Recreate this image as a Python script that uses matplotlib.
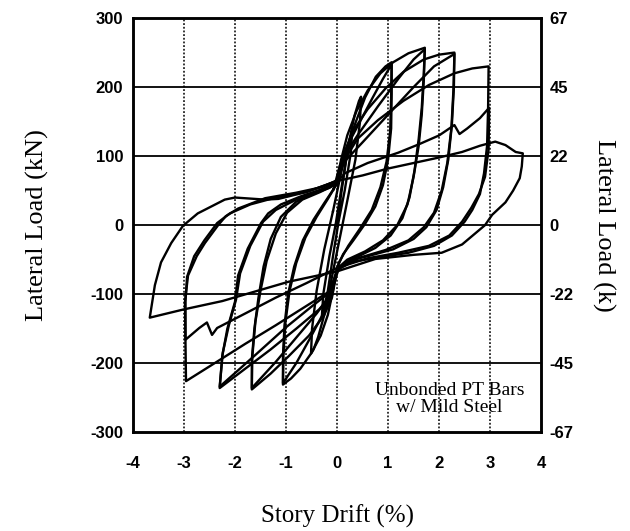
import matplotlib.pyplot as plt
import numpy as np

plt.rcParams['axes.unicode_minus'] = False

# tick values / labels
drift_ticks = [-4, -3, -2, -1, 0, 1, 2, 3, 4]
load_ticks = [-300, -200, -100, 0, 100, 200, 300]
kip_labels = ['-67', '-45', '-22', '0', '22', '45', '67']

# hysteresis cycles, (drift %, load kN)
cycle_e1 = [(0, 0), (0.08, 45), (0.18, 95), (0.3, 140), (0.27, 105), (0.15, 50), (0.03, 5),
            (-0.08, -45), (-0.18, -95), (-0.3, -135), (-0.27, -100), (-0.15, -45), (-0.03, 0)]
cycle_e2 = [(-0.03, 0), (0.1, 60), (0.22, 115), (0.34, 158), (0.43, 180), (0.47, 186), (0.45, 150),
            (0.36, 95), (0.2, 35), (0.05, -20), (-0.1, -75), (-0.25, -130), (-0.37, -162),
            (-0.46, -180), (-0.51, -186), (-0.49, -150), (-0.4, -95), (-0.25, -35), (-0.08, 20)]
cycle_1a = [(-0.08, 20), (0.02, 55), (0.12, 90), (0.25, 125), (0.37, 150), (0.55, 185), (0.76, 215),
            (0.95, 230), (1.07, 236), (1.07, 190), (1.06, 140), (1.0, 95), (0.9, 58), (0.75, 27),
            (0.55, 2), (0.32, -22), (0.12, -42), (0.0, -62), (-0.08, -95), (-0.18, -130),
            (-0.32, -160), (-0.5, -185), (-0.72, -208), (-0.9, -222), (-1.06, -231),
            (-1.06, -190), (-1.03, -145), (-0.96, -100), (-0.84, -60), (-0.67, -22),
            (-0.46, 8), (-0.25, 32), (-0.07, 52)]
cycle_1b = [(-0.07, 52), (0.05, 85), (0.2, 115), (0.45, 150), (0.7, 185), (0.9, 212), (1.07, 233),
            (1.06, 185), (1.04, 135), (0.97, 92), (0.85, 55), (0.68, 22), (0.45, -5), (0.22, -30),
            (0.03, -55), (-0.1, -100), (-0.25, -125), (-0.5, -160), (-0.8, -200), (-1.06, -229),
            (-1.05, -185), (-1.01, -140), (-0.93, -95), (-0.8, -55), (-0.62, -18), (-0.4, 12),
            (-0.18, 38), (-0.02, 58)]
cycle_2a = [(-0.02, 58), (0.08, 95), (0.2, 130), (0.38, 165), (0.6, 195), (0.85, 220), (1.1, 236),
            (1.4, 249), (1.72, 257), (1.7, 220), (1.66, 170), (1.6, 125), (1.52, 80), (1.42, 40),
            (1.28, 10), (1.05, -15), (0.75, -33), (0.45, -44), (0.2, -52), (0.0, -65), (-0.1, -105),
            (-0.25, -130), (-0.55, -160), (-0.95, -190), (-1.3, -215), (-1.67, -238),
            (-1.67, -195), (-1.62, -150), (-1.54, -105), (-1.44, -60), (-1.3, -20), (-1.1, 12),
            (-0.8, 34), (-0.45, 46), (-0.15, 54), (0.0, 62)]
cycle_2b = [(0.0, 62), (0.1, 95), (0.4, 130), (0.8, 172), (1.2, 212), (1.5, 240), (1.72, 255),
            (1.7, 210), (1.66, 160), (1.6, 115), (1.5, 70), (1.38, 30), (1.18, 0), (0.9, -22),
            (0.55, -38), (0.2, -50), (0.02, -62), (-0.12, -100), (-0.4, -128), (-0.8, -163),
            (-1.2, -198), (-1.67, -236), (-1.66, -190), (-1.6, -140), (-1.5, -95), (-1.38, -52),
            (-1.2, -12), (-0.98, 18), (-0.68, 37), (-0.33, 48), (0.0, 60)]
cycle_3a = [(0.0, 60), (0.12, 100), (0.3, 135), (0.6, 168), (0.95, 198), (1.3, 222), (1.7, 240),
            (2.0, 247), (2.3, 250), (2.29, 200), (2.25, 145), (2.18, 95), (2.08, 55), (1.95, 22),
            (1.75, -3), (1.5, -20), (1.1, -35), (0.6, -45), (0.2, -52), (0.0, -65),
            (-0.12, -102), (-0.35, -122), (-0.8, -150), (-1.3, -180), (-1.8, -208), (-2.3, -236),
            (-2.25, -190), (-2.15, -150), (-2.0, -111), (-1.94, -73), (-1.75, -34), (-1.49, 3),
            (-1.35, 17), (-1.1, 30), (-0.7, 42), (-0.3, 52), (0.0, 62)]
cycle_3b = [(0.0, 62), (0.12, 90), (0.5, 120), (1.0, 160), (1.5, 200), (1.9, 230), (2.3, 248),
            (2.28, 195), (2.24, 140), (2.16, 90), (2.05, 50), (1.9, 18), (1.7, -3), (1.4, -22),
            (0.95, -36), (0.45, -47), (0.05, -60), (-0.12, -96), (-0.5, -118), (-1.0, -148),
            (-1.6, -188), (-2.3, -234), (-2.24, -185), (-2.12, -145), (-1.98, -108), (-1.9, -70),
            (-1.7, -30), (-1.45, 5), (-1.2, 22), (-0.8, 37), (-0.4, 48), (0.0, 60)]
cycle_4 = [(0.0, 60), (0.15, 95), (0.4, 125), (0.8, 152), (1.3, 180), (1.8, 203), (2.3, 220),
           (2.65, 227), (2.97, 230), (2.96, 170), (2.94, 115), (2.88, 75), (2.8, 45), (2.65, 22),
           (2.5, 5), (2.25, -15), (1.9, -30), (1.4, -40), (0.8, -47), (0.3, -53), (0.0, -65),
           (-0.15, -96), (-0.6, -117), (-1.2, -145), (-1.8, -172), (-2.4, -200), (-2.96, -226),
           (-2.97, -170), (-2.98, -111), (-2.92, -73), (-2.75, -45), (-2.59, -26), (-2.33, 0),
           (-2.18, 13), (-1.94, 24), (-1.41, 39), (-0.8, 47), (-0.3, 55), (0.0, 65)]
cycle_5 = [(0.0, 62), (0.15, 75), (0.6, 90), (1.2, 105), (1.6, 117), (2.0, 130), (2.3, 145),
           (2.4, 132), (2.55, 140), (2.8, 155), (2.98, 170), (2.97, 110), (2.9, 70), (2.78, 45),
           (2.63, 25), (2.45, 5), (2.2, -15), (1.8, -30), (1.2, -40), (0.6, -48), (0.0, -62),
           (-0.6, -84), (-1.2, -105), (-1.8, -128), (-2.35, -149), (-2.45, -159), (-2.55, -141),
           (-2.7, -149), (-2.97, -166), (-2.97, -110), (-2.94, -75), (-2.8, -45), (-2.6, -22),
           (-2.35, 3), (-2.1, 17), (-1.7, 30), (-1.2, 40), (-0.6, 48), (0.0, 64)]
cycle_6 = [(0.0, 64), (0.5, 72), (1.0, 82), (1.5, 90), (2.0, 98), (2.45, 106), (2.8, 115),
           (3.1, 121), (3.3, 116), (3.5, 106), (3.64, 104), (3.62, 85), (3.58, 68), (3.45, 50),
           (3.3, 33), (3.04, 15), (2.9, 0), (2.45, -28), (2.05, -40), (1.5, -43), (0.75, -49),
           (0.0, -67), (-0.95, -82), (-2.25, -110), (-3.0, -122), (-3.67, -134), (-3.57, -87),
           (-3.45, -54), (-3.25, -26), (-3.02, -1), (-2.73, 17), (-2.2, 37), (-2.0, 40),
           (-1.41, 37), (-1.15, 38), (-0.6, 48), (0.0, 64)]

cycles = [cycle_e1, cycle_e2, cycle_1a, cycle_1b, cycle_2a, cycle_2b,
          cycle_3a, cycle_3b, cycle_4, cycle_5, cycle_6]

fig = plt.figure(figsize=(6.3, 5.31), dpi=100)
ax = fig.add_axes([0.211, 0.186, 0.648, 0.780])

for c in cycles:
    pts = np.array(c)
    ax.plot(pts[:, 0], pts[:, 1], color='black', lw=1.7, solid_joinstyle='round')

ax.set_xlim(-4, 4)
ax.set_ylim(-300, 300)
ax.set_xticks(drift_ticks)
ax.set_xticklabels([str(t) for t in drift_ticks])
ax.set_yticks(load_ticks)
ax.set_yticklabels([str(t) for t in load_ticks])

for t in drift_ticks[1:-1]:
    ax.axvline(t, color='black', lw=1.1, linestyle=(0, (1.2, 1.2)), zorder=0)
for t in load_ticks[1:-1]:
    ax.axhline(t, color='black', lw=1.3, zorder=0)

for s in ax.spines.values():
    s.set_linewidth(1.8)

tick_font = dict(family='Liberation Sans', weight='bold', size=12)
ax.tick_params(length=0)
ax.tick_params(axis='y', pad=7)
ax.tick_params(axis='x', pad=17)
for lab in ax.get_xticklabels() + ax.get_yticklabels():
    lab.set_fontproperties(tick_font)

ax2 = ax.twinx()
ax2.set_ylim(-300, 300)
ax2.set_yticks(load_ticks)
ax2.set_yticklabels(kip_labels)
ax2.tick_params(length=0, pad=6)
for lab in ax2.get_yticklabels():
    lab.set_fontproperties(tick_font)
for s in ax2.spines.values():
    s.set_linewidth(1.8)

serif = 'Liberation Serif'
ax.set_xlabel('Story Drift (%)', family=serif, fontsize=18, labelpad=24)
ax.set_ylabel('Lateral Load (kN)', family=serif, fontsize=19, labelpad=30)
ax2.set_ylabel('Lateral Load (k)', family=serif, fontsize=19, rotation=-90, labelpad=30)

ax.text(2.2, -252, 'Unbonded PT Bars\nw/ Mild Steel', family=serif, fontsize=14,
        ha='center', va='center', linespacing=1.0)

fig.savefig('out.png', dpi=100)
